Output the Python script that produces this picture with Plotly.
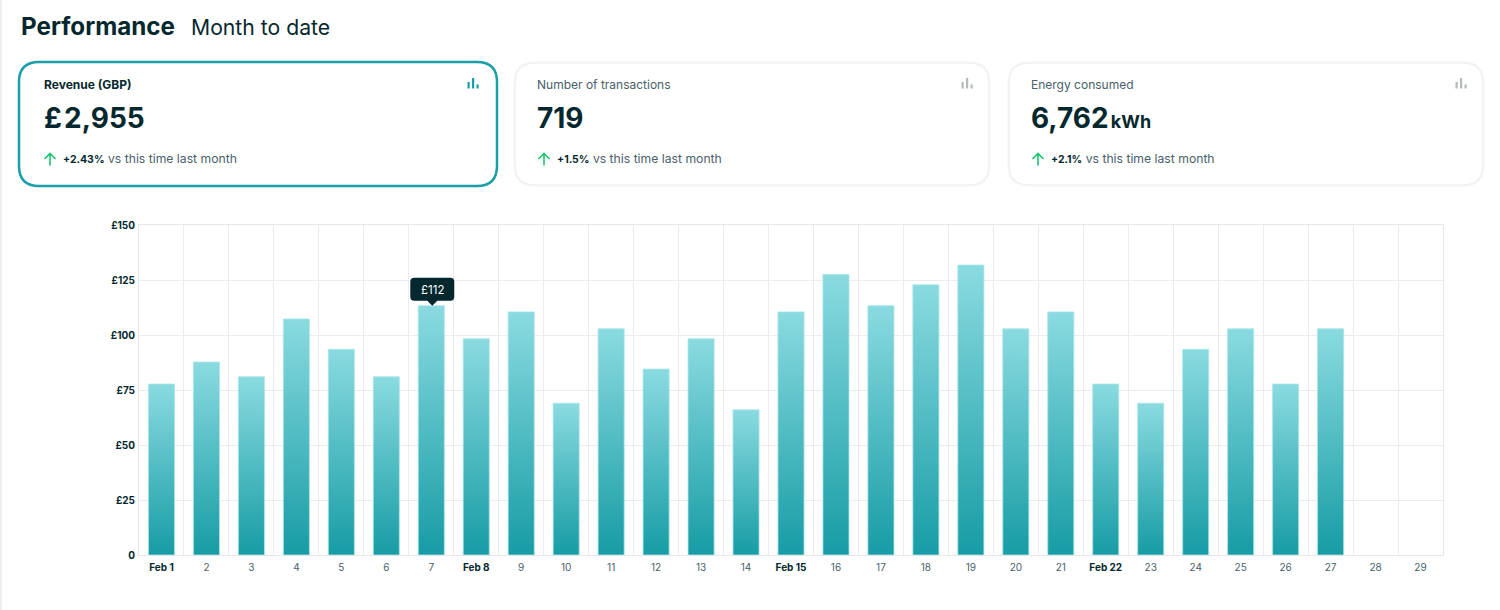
"""Performance dashboard: month to date revenue per day."""

import plotly.graph_objects as go

# Chart data
day_labels = ["Feb 1", "2", "3", "4", "5", "6", "7", "Feb 8", "9", "10", "11", "12", "13", "14", "Feb 15",
              "16", "17", "18", "19", "20", "21", "Feb 22", "23", "24", "25", "26", "27", "28", "29"]
revenue = [77.7, 87.7, 81, 107.3, 93.5, 81, 113.3, 98.3, 110.5, 69, 102.8, 84.5, 98.3, 66, 110.5,
           127.5, 113.3, 122.8, 131.8, 102.8, 110.5, 77.7, 69, 93.5, 102.8, 77.7, 102.8, None, None]
y_ticks = [0, 25, 50, 75, 100, 125, 150]
y_tick_labels = ["0", "£25", "£50", "£75", "£100", "£125", "£150"]
bold_days = ["Feb 1", "Feb 8", "Feb 15", "Feb 22"]
tooltip_day = "7"
tooltip_value = 113.3
tooltip_label = "£112"

# Card data
card_titles = ["<b>Revenue (GBP)</b>", "Number of transactions", "Energy consumed"]
card_values = ["£\u200a2,955", "719", "6,762\u200a<span style='font-size:18px'>kWh</span>"]
card_changes = ["+2.43%", "+1.5%", "+2.1%"]
card_note = " vs this time last month"

FONT = "Inter"
DARK = "#04282e"
GREY = "#48616a"
TEAL = "#1a9fa8"
GREEN = "#1cc46f"

# Plot area in page pixels
LEFT, RIGHT, TOP, BOTTOM = 139, 1443, 225, 555


def px_x(x):
    return (x - LEFT) / (RIGHT - LEFT)


def px_y(y):
    return (BOTTOM - y) / (BOTTOM - TOP)


def rounded(x0, y0, x1, y1, r):
    """Rounded rectangle as a paper-referenced path."""
    pts = [
        ("M", x0 + r, y0), ("L", x1 - r, y0), ("Q", x1, y0, x1, y0 + r),
        ("L", x1, y1 - r), ("Q", x1, y1, x1 - r, y1), ("L", x0 + r, y1),
        ("Q", x0, y1, x0, y1 - r), ("L", x0, y0 + r), ("Q", x0, y0, x0 + r, y0),
    ]
    parts = []
    for p in pts:
        coords = []
        for i in range(1, len(p), 2):
            coords.append(f"{px_x(p[i]):.5f},{px_y(p[i + 1]):.5f}")
        parts.append(p[0] + " ".join(coords))
    return " ".join(parts) + " Z"


def paper_rect(x0, y0, x1, y1, color):
    return dict(type="rect", xref="paper", yref="paper", x0=px_x(x0), x1=px_x(x1),
                y0=px_y(y0), y1=px_y(y1), fillcolor=color, line_width=0)


def label(x, y, text, size, color=DARK):
    return dict(xref="paper", yref="paper", x=px_x(x), y=px_y(y), text=text, showarrow=False,
                xanchor="left", yanchor="middle", borderpad=0, borderwidth=0,
                font=dict(family=FONT, size=size, color=color))


def tick_text(day):
    if day in bold_days:
        return f"<span style='color:{DARK}'><b>{day}</b></span>"
    return day


fig = go.Figure(
    go.Bar(
        x=day_labels,
        y=revenue,
        width=0.58,
        marker=dict(color=TEAL, line=dict(color="rgba(170,230,234,0.8)", width=1)),
        hoverinfo="skip",
    )
)

shapes = [paper_rect(0, 0, 2, 610, "#eceff0")]
annotations = [
    label(21, 27, "<b>Performance</b>", 24.2),
    label(191, 27, "Month to date", 21.2),
]

# Three KPI cards
card_boxes = [(19, 62, 497, 186), (515, 63, 989, 185), (1009, 63, 1483, 185)]
offsets = [0, 494, 988]
for i, box in enumerate(card_boxes):
    dx = offsets[i]
    active = i == 0
    if not active:
        shapes.append(dict(type="path", xref="paper", yref="paper", path=rounded(box[0] - 1, box[1] - 1, box[2] + 1, box[3] + 1, 21),
                           line=dict(color="rgba(0,0,0,0.03)", width=1.5), fillcolor="white"))
    shapes.append(dict(type="path", xref="paper", yref="paper", path=rounded(*box, 20),
                       line=dict(color=TEAL if active else "#f0f0f0", width=2.5 if active else 1.5),
                       fillcolor="white"))

    # Small bar chart icon
    icon_color = TEAL if active else "#b5b9ba"
    shapes.append(paper_rect(467.5 + dx, 82, 469.7 + dx, 88.5, icon_color))
    shapes.append(paper_rect(472 + dx, 78, 474.2 + dx, 88.5, icon_color))
    shapes.append(paper_rect(476.5 + dx, 84.5, 478.7 + dx, 88.5, icon_color))

    # Green up arrow
    cx = 50 + dx
    arrow = (f"M{px_x(cx)},{px_y(165.5)} L{px_x(cx)},{px_y(153.5)} "
             f"M{px_x(cx - 5.5)},{px_y(159)} L{px_x(cx)},{px_y(153.5)} L{px_x(cx + 5.5)},{px_y(159)}")
    shapes.append(dict(type="path", xref="paper", yref="paper", path=arrow, line=dict(color=GREEN, width=1.6)))

    text_x = 44 if active else 43 + dx
    annotations.append(label(text_x, 84.5, card_titles[i], 12, DARK if active else GREY))
    annotations.append(label(text_x, 118, f"<b>{card_values[i]}</b>", 28))
    change = f"<span style='color:{DARK};font-size:10.5px'><b>{card_changes[i]}</b></span>{card_note}"
    annotations.append(label(63 + dx, 158.8, change, 12.2, GREY))

# Tooltip over the hovered bar, sized in pixels and anchored on the data
tooltip_index = day_labels.index(tooltip_day)
shapes.append(dict(
    type="path", xref="x", yref="y", xsizemode="pixel", ysizemode="pixel",
    xanchor=tooltip_index, yanchor=tooltip_value,
    path=("M-17,5 L-4,5 L1,0 L6,5 L19,5 Q23,5 23,9 L23,24 Q23,28 19,28 L-17,28 "
          "Q-21,28 -21,24 L-21,9 Q-21,5 -17,5 Z"),
    fillcolor=DARK, line_width=0,
))
annotations.append(dict(xref="x", yref="y", x=tooltip_index, y=tooltip_value, xshift=1, yshift=16, text=tooltip_label,
                        showarrow=False, font=dict(family=FONT, size=11.5, color="white")))

fig.update_layout(
    width=1500,
    height=610,
    margin=dict(l=LEFT, r=1500 - RIGHT, t=TOP, b=610 - BOTTOM, pad=0),
    paper_bgcolor="white",
    plot_bgcolor="white",
    font=dict(family=FONT, size=10, color=GREY),
    showlegend=False,
    shapes=shapes,
    annotations=annotations,
    xaxis=dict(
        type="category",
        range=[-0.5, 28.5],
        tickmode="array",
        tickvals=day_labels,
        ticktext=[tick_text(d) for d in day_labels],
        tickson="boundaries",
        showgrid=True,
        gridcolor="#ececec",
        gridwidth=1,
        showline=True,
        linecolor="#e6e6e6",
        mirror=True,
        ticks="",
        ticklabelstandoff=3,
        tickfont=dict(family=FONT, size=10, color=GREY),
    ),
    yaxis=dict(
        range=[0, 150],
        tickmode="array",
        tickvals=y_ticks,
        ticktext=[f"<b>{t}</b>" for t in y_tick_labels],
        showgrid=True,
        gridcolor="#ececec",
        gridwidth=1,
        zeroline=False,
        showline=True,
        linecolor="#e6e6e6",
        mirror=True,
        ticks="",
        ticklabelstandoff=1,
        tickfont=dict(family=FONT, size=10, color=DARK),
    ),
)

# Bars fade from light teal at the top to dark teal at the bottom
post_script = """
document.body.style.margin = '0';
document.body.style.overflow = 'hidden';
var gd = document.getElementById('{plot_id}');
var NS = 'http://www.w3.org/2000/svg';
var defs = gd.querySelector('svg.main-svg defs');
var grad = document.createElementNS(NS, 'linearGradient');
grad.setAttribute('id', 'bar-fade');
grad.setAttribute('x1', '0'); grad.setAttribute('y1', '0');
grad.setAttribute('x2', '0'); grad.setAttribute('y2', '1');
[['0', '#8adbe0'], ['1', '#179ca5']].forEach(function (s) {
    var stop = document.createElementNS(NS, 'stop');
    stop.setAttribute('offset', s[0]);
    stop.setAttribute('stop-color', s[1]);
    grad.appendChild(stop);
});
defs.appendChild(grad);
gd.querySelectorAll('.bars .point path').forEach(function (p) {
    p.style.fill = 'url(#bar-fade)';
});
"""

fig.write_html("out.html", post_script=post_script, config={"displayModeBar": False})
